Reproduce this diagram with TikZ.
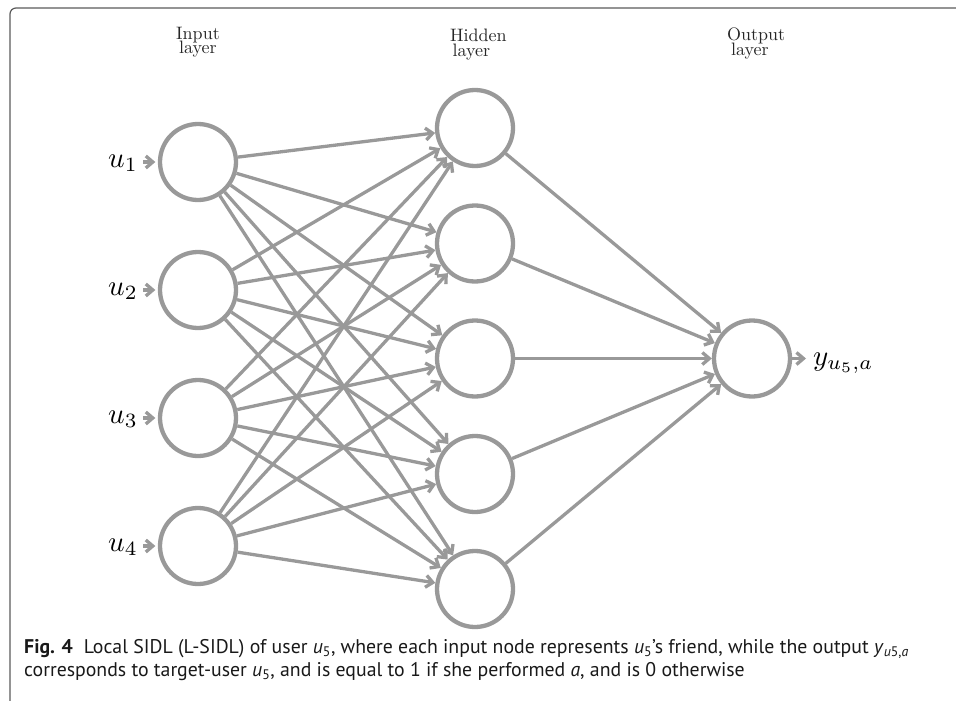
\RequirePackage{fix-cm}
\documentclass[tikz,border=0pt]{standalone}
\usepackage{fontspec}
\usepackage{graphicx}
\setsansfont{PT Sans}
\newfontfamily\lmten{lmroman10-regular.otf}
\usetikzlibrary{arrows.meta}
\definecolor{edgegray}{RGB}{153,153,153}
\definecolor{framegray}{RGB}{90,90,90}
\newcommand\mytightlines{\lineskiplimit=-20pt\relax}
\begin{document}
\begin{tikzpicture}[x=1pt,y=-1pt,
  neuron/.style={circle, draw=edgegray, line width=4.3pt, minimum size=76pt, inner sep=0pt},
  conn/.style={draw=edgegray, line width=3.3pt, -{Straight Barb[length=7pt,width=12pt]}},
  laytitle/.style={font=\lmten\fontsize{18}{14.5}\selectfont\mytightlines, inner sep=0pt, text=black!85},
  inlab/.style={inner sep=0pt},
  captext/.style={font=\sffamily\fontsize{19.8}{23.5}\selectfont\mytightlines, inner sep=0pt, align=left, text=black!90}]
\useasboundingbox (0,0) rectangle (956,701);
\draw[framegray, line width=1.2pt, rounded corners=6pt] (958,8) -- (10,8) -- (10,703);

% layer titles
\node[laytitle, align=center, anchor=north] (tin) at (198,27) {Input\\layer};
\node[laytitle, align=left, anchor=north west] (thid) at (450,29) {Hidden\\\hspace*{2.5pt}layer};
\node[laytitle, align=left, anchor=north west] (tout) at (727,28) {Output\\\hspace*{4pt}layer};

% input layer
\node[neuron] (i1) at (198,162) {};
\node[neuron] (i2) at (198,290) {};
\node[neuron] (i3) at (198,418) {};
\node[neuron] (i4) at (198,546) {};
% hidden layer
\node[neuron] (h1) at (475,128) {};
\node[neuron] (h2) at (475,243.5) {};
\node[neuron] (h3) at (475,358.5) {};
\node[neuron] (h4) at (475,474) {};
\node[neuron] (h5) at (475,589) {};
% output
\node[neuron] (o) at (752,358.5) {};

% input labels
\node[inlab, anchor=base east] (l1) at (138,167) {\scalebox{2.9}{$u_1$}};
\node[inlab, anchor=base east] (l2) at (138,295) {\scalebox{2.9}{$u_2$}};
\node[inlab, anchor=base east] (l3) at (138,423) {\scalebox{2.9}{$u_3$}};
\node[inlab, anchor=base east] (l4) at (138,551) {\scalebox{2.9}{$u_4$}};
\foreach \k in {1,...,4}
  \draw[conn, shorten <=5pt, shorten >=2.5pt] (l\k.east |- i\k.west) -- (i\k.west);

% connections
\foreach \a in {1,...,4}
  \foreach \b in {1,...,5}
    \draw[conn] (i\a) -- (h\b);
\foreach \b in {1,...,5}
  \draw[conn] (h\b) -- (o);

% output label
\node[inlab, anchor=base west] (yl) at (813,365) {\scalebox{2.9}{$y_{u_5,a}$}};
\draw[conn, shorten >=7pt] (o.east) -- (yl.west |- o.east);

% caption
\node[captext, anchor=north west] (cap) at (24,639) {\textbf{Fig. 4}\hspace{0.55em}Local SIDL (L-SIDL) of user \textit{u}\textsubscript{5}, where each input node represents \textit{u}\textsubscript{5}’s friend, while the output \textit{y}\textsubscript{\textit{u}5,\textit{a}}\\corresponds to target-user \textit{u}\textsubscript{5}, and is equal to 1 if she performed \textit{a}, and is 0 otherwise};
\end{tikzpicture}
\end{document}
